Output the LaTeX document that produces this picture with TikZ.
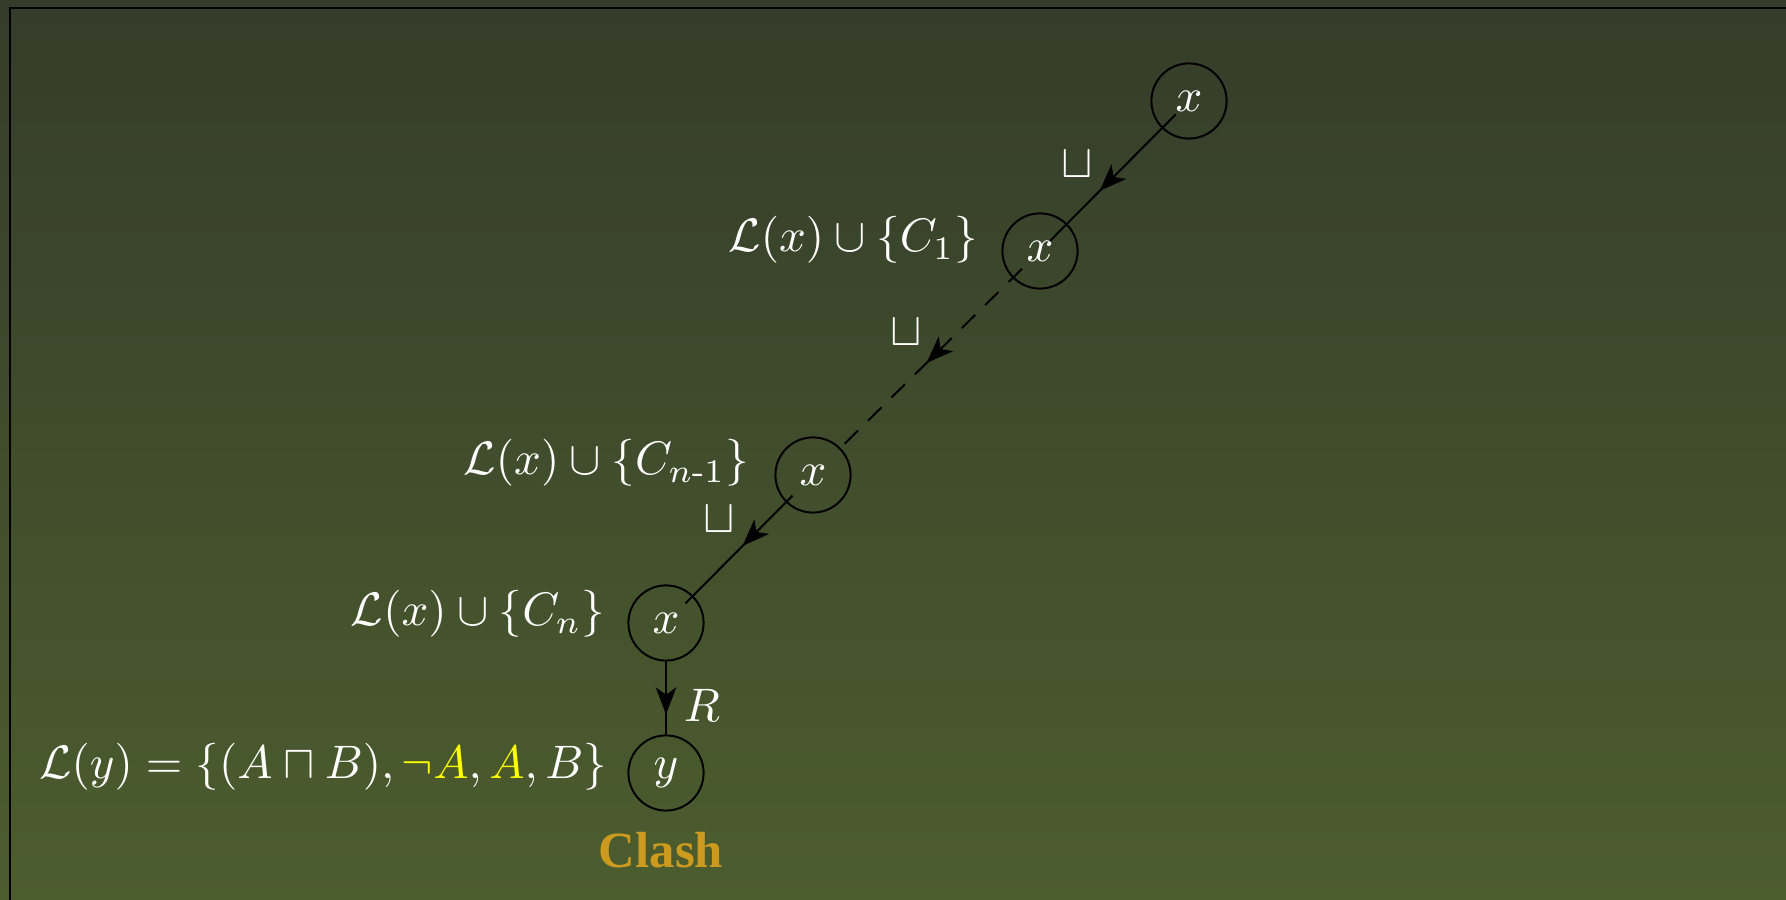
\documentclass[tikz,border=0pt]{standalone}
\usepackage{amsmath}
\usepackage{fontspec}
\newfontfamily\clashfont{Liberation Serif}
\usetikzlibrary{arrows.meta,decorations.markings}
\definecolor{bgtop}{RGB}{53,60,42}
\definecolor{bgbot}{RGB}{76,93,46}
\definecolor{clashcol}{RGB}{204,154,30}
\definecolor{hilite}{RGB}{255,255,0}
\tikzset{
  tnode/.style={circle, draw=black, line width=0.42pt, minimum size=16pt, inner sep=0pt, text=white},
  lbl/.style={text=white, inner sep=0pt},
  edge/.style={draw=black, line width=0.42pt},
  tipat/.style={decoration={markings, mark=at position #1 with {\arrow[black]{Stealth[length=5.8pt,width=4.4pt,inset=1.6pt]}}}, postaction={decorate}},
}
\begin{document}
\begin{tikzpicture}[x=0.2128pt, y=-0.2128pt]
\useasboundingbox (0,0) rectangle (1786,900);
\shade[top color=bgtop, bottom color=bgbot] (0,0) rectangle (1786,900);
\draw[line width=0.45pt, black] (10,8) rectangle (1830,960);
% nodes
\node[tnode] (x1) at (1189,101) {$x$};
\node[tnode] (x2) at (1040,251) {$x$};
\node[tnode] (x3) at (813,475) {$x$};
\node[tnode] (x4) at (666,623) {$x$};
\node[tnode] (y) at (666,773) {$y$};
% labels
\node[lbl, anchor=base east] (l2) at (979,252) {$\mathcal{L}(x)\cup\{C_1\}$};
\node[lbl, anchor=base east] (l3) at (750,475) {$\mathcal{L}(x)\cup\{C_{n\text{-}1}\}$};
\node[lbl, anchor=base east] (l4) at (606,626) {$\mathcal{L}(x)\cup\{C_n\}$};
\node[lbl, anchor=base east] (ly) at (608,779) {$\mathcal{L}(y)=\{(A\sqcap B),{\color{hilite}\neg A},{\color{hilite}A},B\}$};
\node[inner sep=0pt, anchor=base, text=clashcol, font=\clashfont\bfseries\fontsize{10.8}{13}\selectfont] (clash) at (661,868) {Clash};
% edges
\draw[edge, shorten <=4pt, shorten >=3pt] (x1.center) -- (x2.center);
\path[tipat=0.6] (x1.center) -- (x2.center);
\draw[edge, dashed, dash pattern=on 4pt off 3pt, shorten <=5.4pt, shorten >=8.2pt] (x2.center) -- (x3.center);
\path[tipat=0.5] (x2.center) -- (x3.center);
\draw[edge, shorten <=6.2pt, shorten >=5.9pt] (x3.center) -- (x4.center);
\path[tipat=0.48] (x3.center) -- (x4.center);
\draw[edge] (x4) -- (y);
\path[tipat=0.61] (x4.center) -- (y.center);
% edge labels
\node[lbl] (e1) at (1077,164) {$\sqcup$};
\node[lbl] (e2) at (906,332) {$\sqcup$};
\node[lbl] (e3) at (719,519) {$\sqcup$};
\node[lbl] (e4) at (702,705) {$R$};
\end{tikzpicture}
\end{document}
